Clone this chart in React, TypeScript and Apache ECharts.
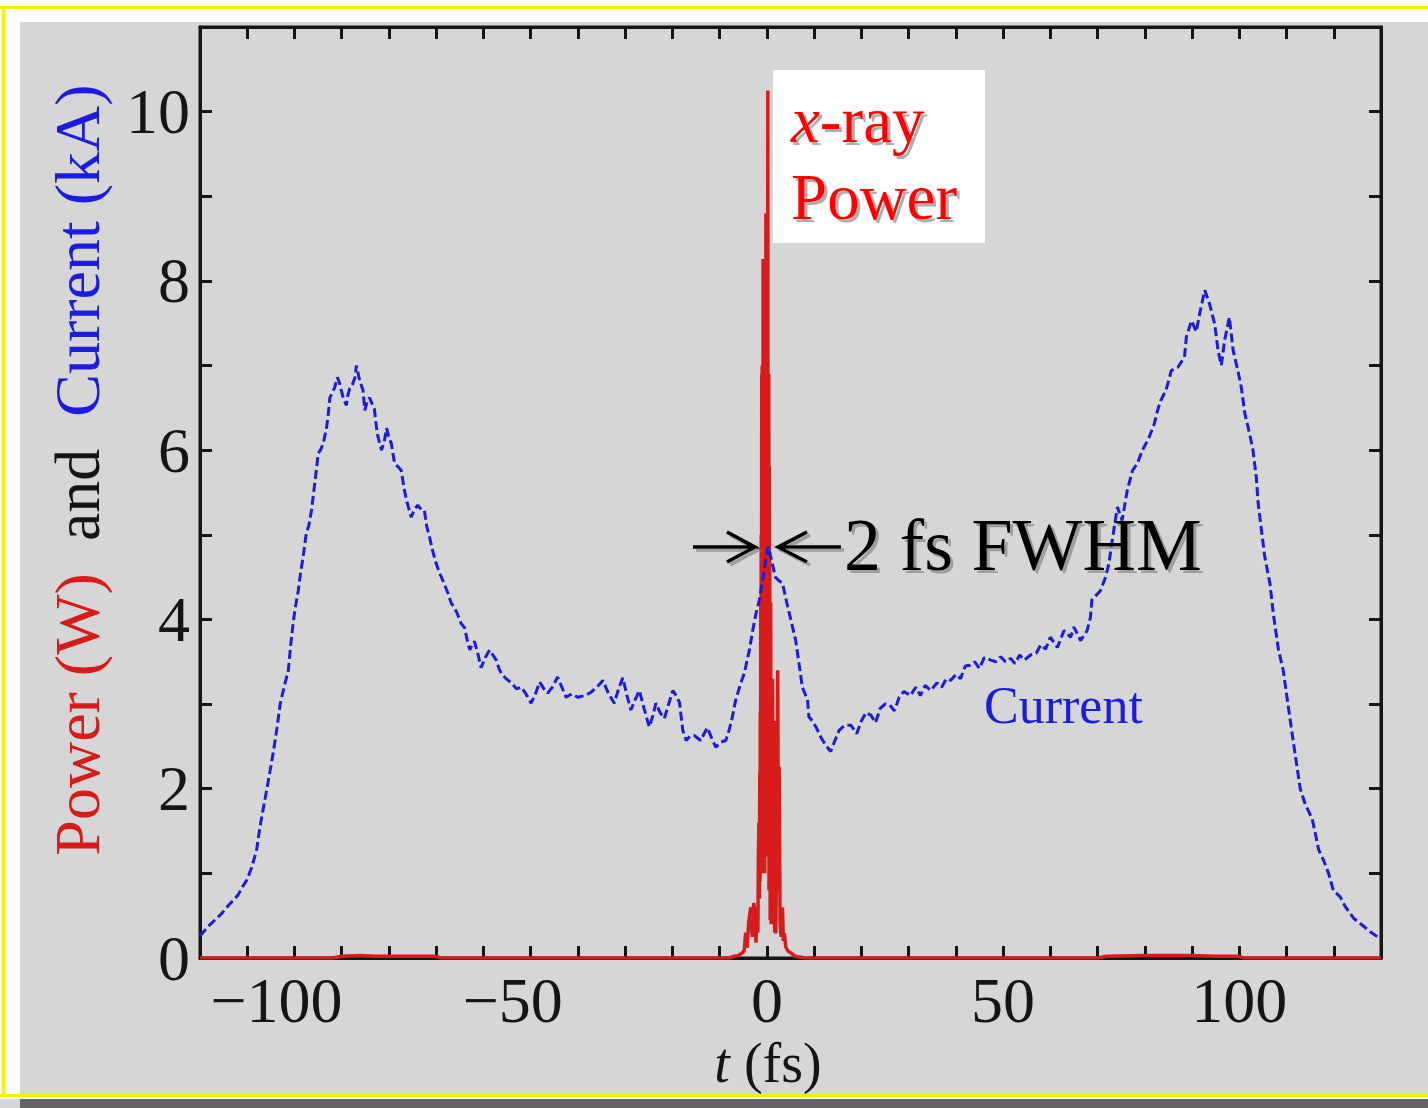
import React, { useEffect, useRef } from "react";
import * as echarts from "echarts";

// ---- data ----
const currentT = [
  -120, -118.5, -117, -115.5, -114, -113, -112, -111, -110, -109, -108, -107.3, -106.5, -105.9, -105.2, -104.4, -103.7, -103, -102.2, -101.3,
  -100.8, -100.3, -99.8, -99.2, -98.7, -98.2, -97.5, -97, -96.4, -95.7, -95.3, -95.0, -94.5, -93.9, -93.2, -92.8, -92.5, -92, -91.5, -90.9,
  -90.5, -90.1, -89.6, -89.0, -88.7, -88.3, -87.7, -87.2, -86.9, -86.5, -86.2, -85.5, -85.1, -84.6, -84.1, -83.6, -83.1, -82.5, -81.6, -81,
  -80.5, -80, -79.5, -78.8, -78, -77.4, -76.8, -76.3, -75.3, -74.6, -73.9, -73.2, -72.5, -72, -71.4, -70.7, -70.0, -69.3, -68.6, -67.5,
  -66.8, -66.1, -65.4, -64.7, -64, -63.4, -62.9, -62.4, -61.9, -61.2, -60.5, -59.6, -58.7, -58, -57.3, -56.7, -56.2, -55.2, -54.1, -53,
  -52.0, -51, -49.9, -49, -48.1, -47.2, -46.4, -45.4, -44.3, -43.4, -42.5, -41.3, -40.0, -38.6, -37.2, -36, -34.7, -33.5, -32.3, -31.4,
  -30.5, -29.6, -28.8, -27.9, -27.0, -26, -24.9, -24.2, -23.5, -22.6, -21.7, -20.8, -19.9, -19.2, -18.5, -17.8, -17.1, -16.3, -15.4, -14.7,
  -14.0, -13.3, -12.6, -11.7, -10.8, -9.8, -8.7, -8.0, -7.3, -6.6, -5.5, -4.8, -3.7, -3.0, -2.3, -1.6, -0.8, 0.2, 1.0, 1.8,
  2.5, 3.3, 4.4, 5.1, 6.1, 6.9, 7.5, 8.6, 8.9, 9.6, 10.4, 11.4, 12.5, 13.5, 14.2, 15.3, 16.5, 17.8, 19, 20,
  21, 22, 23, 24, 25, 26, 27, 28, 29, 30.4, 31.5, 32.5, 33.5, 34.7, 36, 37, 38, 38.9, 40, 41,
  42, 43, 44, 45, 46, 47.4, 48.5, 49.5, 50.5, 51.6, 52.5, 53.5, 54.5, 55.8, 57, 58, 59, 60.0, 61.5, 62.9,
  64.3, 65.0, 66.4, 67.8, 68.5, 68.8, 70.6, 71.7, 72.4, 73.1, 74.2, 75.2, 76.3, 77.4, 78.4, 79.5, 80.9, 82.0, 82.7, 83.4,
  84.5, 85.6, 87.0, 88.4, 88.8, 89.9, 90.9, 91.6, 92.7, 93.7, 94.8, 95.5, 96.2, 96.9, 97.9, 98.7, 99.7, 100.4, 101.2, 102.2,
  102.9, 103.6, 104.0, 104.7, 105.4, 106.5, 107.2, 108.3, 109.3, 110.3, 111.4, 112.9, 114.0, 115.4, 116.1, 116.8, 117.8, 118.9, 119.9, 121.4,
  122.4, 124.2, 126.0, 127.7, 129.8,
];
const currentKA = [
  0.26, 0.36, 0.44, 0.52, 0.62, 0.68, 0.74, 0.84, 0.93, 1.08, 1.28, 1.55, 1.8, 1.98, 2.2, 2.46, 2.72, 3.01, 3.2, 3.4,
  3.7, 3.95, 4.15, 4.34, 4.55, 4.73, 5.02, 5.1, 5.29, 5.61, 5.8, 5.96, 6.0, 6.08, 6.27, 6.45, 6.62, 6.68, 6.74, 6.86,
  6.8, 6.71, 6.6, 6.53, 6.65, 6.73, 6.78, 6.86, 7.0, 6.9, 6.82, 6.71, 6.47, 6.58, 6.62, 6.55, 6.49, 6.2, 6.0, 6.1,
  6.26, 6.15, 6.08, 5.84, 5.8, 5.76, 5.55, 5.41, 5.21, 5.3, 5.35, 5.3, 5.29, 5.1, 4.97, 4.8, 4.66, 4.55, 4.46, 4.31,
  4.19, 4.14, 4.05, 3.95, 3.9, 3.75, 3.64, 3.7, 3.74, 3.6, 3.43, 3.55, 3.64, 3.58, 3.52, 3.42, 3.36, 3.3, 3.25, 3.18,
  3.2, 3.12, 3.01, 3.12, 3.26, 3.18, 3.13, 3.2, 3.32, 3.2, 3.08, 3.12, 3.08, 3.1, 3.14, 3.2, 3.28, 3.12, 3.01, 3.18,
  3.31, 3.1, 2.93, 3.05, 3.16, 2.95, 2.73, 2.85, 3.01, 2.9, 2.83, 3.0, 3.16, 3.1, 3.02, 2.69, 2.57, 2.62, 2.63, 2.6,
  2.57, 2.65, 2.72, 2.6, 2.49, 2.55, 2.57, 2.69, 2.85, 3.05, 3.25, 3.36, 3.64, 3.87, 4.07, 4.23, 4.5, 4.86, 4.7, 4.5,
  4.46, 4.43, 4.15, 3.99, 3.75, 3.44, 3.2, 3.05, 2.85, 2.8, 2.73, 2.61, 2.51, 2.44, 2.54, 2.69, 2.75, 2.75, 2.65, 2.8,
  2.9, 2.87, 2.78, 2.95, 3.0, 2.99, 2.92, 3.08, 3.15, 3.1, 3.2, 3.1, 3.22, 3.16, 3.25, 3.2, 3.3, 3.28, 3.35, 3.3,
  3.45, 3.46, 3.5, 3.42, 3.55, 3.52, 3.5, 3.56, 3.5, 3.54, 3.48, 3.58, 3.52, 3.58, 3.6, 3.7, 3.65, 3.79, 3.67, 3.87,
  3.79, 3.91, 3.75, 3.87, 4.03, 4.23, 4.34, 4.5, 4.66, 4.93, 5.33, 5.17, 5.53, 5.76, 5.84, 6.0, 6.15, 6.31, 6.47, 6.59,
  6.71, 6.94, 6.98, 7.1, 7.34, 7.53, 7.4, 7.61, 7.89, 7.73, 7.49, 7.18, 7.0, 7.3, 7.57, 7.18, 6.94, 6.75, 6.43, 6.19,
  6.0, 5.68, 5.37, 5.05, 4.74, 4.42, 4.07, 3.64, 3.4, 3.0, 2.57, 2.0, 1.81, 1.65, 1.47, 1.28, 1.16, 1.0, 0.8, 0.72,
  0.61, 0.47, 0.39, 0.31, 0.23,
];

const powerT = [
  -120, -92, -90, -86, -83, -78, -70, -69, -8, -7, -6, -5.2, -4.8, -4.5, -4.2, -3.8, -3.4, -3.1, -2.8, -2.5,
  -2.3, -2.1, -1.9, -1.8, -1.7, -1.6, -1.5, -1.45, -1.4, -1.35, -1.3, -1.25, -1.2, -1.15, -1.1, -1.05, -1.0, -0.95, -0.9, -0.85,
  -0.8, -0.75, -0.7, -0.65, -0.6, -0.55, -0.5, -0.45, -0.4, -0.35, -0.3, -0.25, -0.2, -0.15, -0.1, -0.05, 0.0, 0.05, 0.1, 0.15,
  0.2, 0.25, 0.3, 0.35, 0.4, 0.45, 0.5, 0.55, 0.6, 0.7, 0.8, 0.9, 1.0, 1.1, 1.2, 1.35, 1.5, 1.65, 1.8, 1.9,
  2.1, 2.3, 2.45, 2.6, 2.8, 3.0, 3.3, 3.5, 3.7, 4.0, 4.5, 5.1, 6, 7.2, 8, 70, 72, 80, 90, 95,
  100, 101, 130,
];
const powerW = [
  0, 0, 0.02, 0.03, 0.02, 0.02, 0.02, 0, 0, 0.02, 0.03, 0.06, 0.09, 0.3, 0.12, 0.45, 0.6, 0.25, 0.65, 0.55,
  0.18, 0.5, 0.3, 1.2, 1.6, 0.7, 2.2, 0.9, 2.9, 1.5, 4.2, 1.2, 5.0, 2.0, 6.9, 1.4, 7.0, 1.0, 6.5, 2.5,
  8.26, 1.8, 6.9, 1.2, 6.9, 2.0, 6.2, 1.0, 5.5, 2.2, 6.9, 3.0, 8.8, 1.2, 6.9, 2.5, 6.9, 3.0, 8.0, 4.0,
  10.25, 1.2, 6.9, 2.0, 6.9, 0.8, 5.8, 1.0, 4.8, 0.45, 4.2, 0.4, 2.5, 0.6, 3.3, 0.5, 2.8, 0.3, 2.0, 0.29,
  1.5, 3.4, 0.8, 2.26, 0.4, 0.25, 0.6, 0.2, 0.29, 0.13, 0.08, 0.06, 0.02, 0.01, 0, 0, 0.02, 0.03, 0.03, 0.02,
  0.02, 0, 0,
];

const xTickLabels = [-100, -50, 0, 50, 100];
const yTickLabels = [0, 2, 4, 6, 8, 10];

const SERIF = '"Liberation Serif", "DejaVu Serif", serif';
const INK = "#151515";
const RED = "#d81c1c";
const BLUE = "#1c1cdc";

export default function App() {
  const ref = useRef<HTMLDivElement>(null);
  useEffect(() => {
    if (!ref.current) return;
    const chart = echarts.init(ref.current, undefined, { renderer: "svg" });
    const axisLine = { show: true, onZero: false, lineStyle: { color: INK, width: 3 } };
    const axisTick = { show: true, inside: true, length: 12, lineStyle: { color: INK, width: 3 } };
    // negative labels: digits centred on the tick, minus sign hanging to the left
    const xFmt = (v: number) =>
      xTickLabels.includes(v) ? (v < 0 ? "{m|\u2212}{p|" + Math.abs(v) + "}" : "{d|" + v + "}") : "";
    const yFmt = (v: number) => (yTickLabels.includes(v) ? String(v) : "");
    const shadowColor = "rgba(120,120,120,0.6)";
    const shadow = { textShadowColor: shadowColor, textShadowOffsetX: 3, textShadowOffsetY: 3, textShadowBlur: 1 };
    const lbl = { fontFamily: SERIF, fontSize: 64, color: INK };
    const arrowStyle = { stroke: "#000", lineWidth: 3.5, fill: "none", shadowColor, shadowOffsetX: 3, shadowOffsetY: 3, shadowBlur: 1 };

    chart.setOption({
      animation: false,
      backgroundColor: "#d6d6d6",
      grid: { left: 200, top: 27, right: 47, bottom: 150, show: true, borderColor: INK, borderWidth: 3, backgroundColor: "transparent" },
      xAxis: [
        {
          type: "value", min: -120, max: 130, interval: 10, axisLine, axisTick,
          splitLine: { show: false },
          axisLabel: {
            formatter: xFmt, ...lbl, margin: 10,
            rich: { m: lbl, p: { ...lbl, padding: [0, 36, 0, 0] }, d: lbl },
          },
        },
        {
          type: "value", position: "top", min: -120, max: 130, interval: 10, axisLine, axisTick,
          splitLine: { show: false }, axisLabel: { show: false },
        },
      ],
      yAxis: [
        {
          type: "value", min: 0, max: 11, interval: 1, axisLine, axisTick,
          splitLine: { show: false },
          axisLabel: { formatter: yFmt, ...lbl, margin: 10 },
        },
        {
          type: "value", position: "right", min: 0, max: 11, interval: 1, axisLine, axisTick,
          splitLine: { show: false }, axisLabel: { show: false },
        },
      ],
      series: [
        {
          name: "Power", type: "line", xAxisIndex: 0, yAxisIndex: 0, symbol: "none",
          data: powerT.map((t, i) => [t, powerW[i]]),
          lineStyle: { color: RED, width: 3.5 }, z: 3,
        },
        {
          name: "Current", type: "line", xAxisIndex: 0, yAxisIndex: 0, symbol: "none",
          data: currentT.map((t, i) => [t, currentKA[i]]),
          lineStyle: { color: BLUE, width: 3, type: [9, 4] }, z: 4,
        },
      ],
      graphic: [
        // page frame
        { type: "rect", shape: { x: 0, y: 0, width: 1428, height: 22 }, style: { fill: "#ffffff" }, silent: true },
        { type: "rect", shape: { x: 0, y: 0, width: 20, height: 1099 }, style: { fill: "#ffffff" }, silent: true },
        { type: "rect", shape: { x: 0, y: 1094, width: 1428, height: 5 }, style: { fill: "#ffffff" }, silent: true },
        { type: "rect", shape: { x: 0, y: 6, width: 1428, height: 3 }, style: { fill: "#f4f000" }, silent: true },
        { type: "rect", shape: { x: 2, y: 6, width: 3, height: 1091 }, style: { fill: "#f4f000" }, silent: true },
        { type: "rect", shape: { x: 0, y: 1094, width: 1428, height: 3 }, style: { fill: "#f4f000" }, silent: true },
        { type: "rect", shape: { x: 20, y: 1099, width: 1408, height: 9 }, style: { fill: "#646464" }, silent: true },
        // y axis title
        {
          type: "text", x: 77, y: 470, rotation: Math.PI / 2, silent: true,
          style: {
            text: "{r|Power (W)}{k|  and  }{b|Current (kA)}",
            align: "center", verticalAlign: "middle", fontFamily: SERIF, fontSize: 64,
            rich: {
              r: { fill: RED, fontFamily: SERIF, fontSize: 64 },
              k: { fill: INK, fontFamily: SERIF, fontSize: 64 },
              b: { fill: BLUE, fontFamily: SERIF, fontSize: 64 },
            },
          },
        },
        // x axis title
        {
          type: "text", x: 768, y: 1063, silent: true,
          style: {
            text: "{i|t}{n| (fs)}", align: "center", verticalAlign: "middle", fontFamily: SERIF, fontSize: 56,
            rich: {
              i: { fill: INK, fontFamily: SERIF, fontSize: 56, fontStyle: "italic" },
              n: { fill: INK, fontFamily: SERIF, fontSize: 56 },
            },
          },
        },
        // x-ray Power box
        { type: "rect", z: 10, shape: { x: 773, y: 70, width: 212, height: 173 }, style: { fill: "#ffffff" }, silent: true },
        {
          type: "text", z: 11, x: 791, y: 120, silent: true,
          style: {
            text: "{i|x}{n|-ray}", align: "left", verticalAlign: "middle", fontFamily: SERIF, fontSize: 65,
            rich: {
              i: { fill: "#ff0000", fontFamily: SERIF, fontSize: 65, fontStyle: "italic", ...shadow },
              n: { fill: "#ff0000", fontFamily: SERIF, fontSize: 65, ...shadow },
            },
          },
        },
        {
          type: "text", z: 11, x: 791, y: 197, silent: true,
          style: { text: "Power", fill: "#ff0000", align: "left", verticalAlign: "middle", fontFamily: SERIF, fontSize: 65, ...shadow },
        },
        // FWHM arrows + label
        {
          type: "polyline", z: 10, silent: true,
          shape: { points: [[693, 547], [754, 547], [727, 532], [755, 547], [727, 562]] },
          style: arrowStyle,
        },
        {
          type: "polyline", z: 10, silent: true,
          shape: { points: [[841, 547], [779, 547], [807, 532], [778, 547], [807, 562]] },
          style: arrowStyle,
        },
        {
          type: "text", z: 10, x: 844, y: 545, silent: true,
          style: { text: "2 fs FWHM", fill: "#000", align: "left", verticalAlign: "middle", fontFamily: SERIF, fontSize: 74, ...shadow },
        },
        // Current label
        {
          type: "text", z: 10, x: 984, y: 705, silent: true,
          style: { text: "Current", fill: BLUE, align: "left", verticalAlign: "middle", fontFamily: SERIF, fontSize: 52 },
        },
      ],
    });
    return () => chart.dispose();
  }, []);
  return <div ref={ref} style={{ position: "fixed", left: 0, top: 0, width: 1428, height: 1108 }} />;
}
